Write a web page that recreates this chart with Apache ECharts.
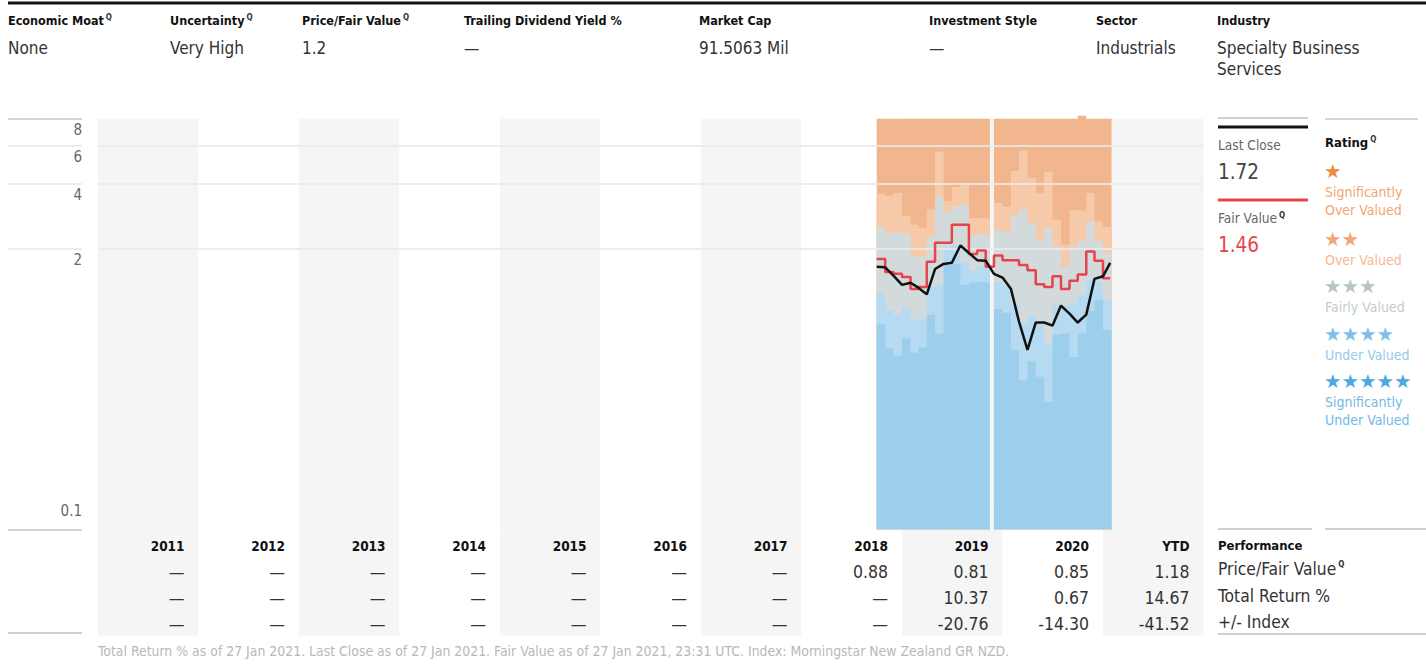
<!DOCTYPE html>
<html><head><meta charset="utf-8">
<script src="https://cdn.jsdelivr.net/npm/echarts@6/dist/echarts.min.js"></script>
<style>html,body{margin:0;padding:0;background:#fff}#c{width:1426px;height:664px}</style>
</head><body><div id="c"></div><script>
const FONT = '"DejaVu Sans Condensed","Roboto",sans-serif';

// ---- header ----
const HEADER_LABELS = ['Economic Moat','Uncertainty','Price/Fair Value','Trailing Dividend Yield %','Market Cap','Investment Style','Sector','Industry'];
const HEADER_Q = [true,true,true,false,false,false,false,false];
const HEADER_VALUES = ['None','Very High','1.2','—','91.5063 Mil','—','Industrials','Specialty Business\nServices'];

// ---- monthly valuation bands (upper edge of each rating band) ----
const MONTHS = ['2018-10','2018-11','2018-12','2019-01','2019-02','2019-03','2019-04','2019-05','2019-06','2019-07','2019-08','2019-09','2019-10','2019-11','2019-12','2020-01','2020-02','2020-03','2020-04','2020-05','2020-06','2020-07','2020-08','2020-09','2020-10','2020-11','2020-12','2021-01'];
const SIG_OVER_TOP  = [8,8,8,8,8,8,8,8,8,8,8,8,8,null,8,8,8,8,8,8,8,8,8,8,8.25,8,8,8];
const OVER_TOP      = [3.58,3.52,3.62,2.84,2.58,2.49,3.04,5.63,3.33,3.86,3.94,2.77,2.77,null,3.26,3.13,4.58,5.70,4.25,3.62,4.53,2.72,2.09,3.01,3.01,3.62,2.67,2.53];
const FAIR_TOP      = [2.53,2.38,2.38,2.36,1.84,1.84,2.28,3.47,2.96,3.14,3.20,2.30,2.33,null,2.44,2.38,2.86,3.05,2.62,2.22,2.48,2.04,1.65,2.04,2.17,2.66,2.17,1.92];
const UNDER_TOP     = [1.25,1.04,0.99,1.06,0.93,0.95,1.33,1.36,2.04,2.08,1.72,1.59,1.66,null,1.40,1.34,1.10,0.91,0.98,0.91,0.72,1.09,1.09,1.12,1.22,1.43,1.40,1.16];
const SIG_UNDER_TOP = [0.89,0.69,0.64,0.77,0.66,0.70,0.99,0.81,1.70,1.70,1.36,1.40,1.40,null,1.05,1.01,0.68,0.49,0.60,0.51,0.39,0.80,0.81,0.63,0.81,1.03,1.16,0.84];

// ---- price lines ----
const CLOSE_DATES = ['2018-10-01','2018-11-01','2018-12-01','2019-01-01','2019-02-01','2019-03-01','2019-04-01','2019-05-01','2019-06-01','2019-07-01','2019-08-01','2019-09-01','2019-10-01','2019-11-01','2019-12-01','2020-01-01','2020-02-01','2020-03-01','2020-04-01','2020-05-01','2020-06-01','2020-07-01','2020-08-01','2020-09-01','2020-10-01','2020-11-01','2020-12-01','2021-01-01','2021-01-27'];
const LAST_CLOSE = [1.65,1.64,1.50,1.36,1.39,1.32,1.23,1.61,1.70,1.72,2.07,1.91,1.77,1.76,1.53,1.47,1.30,0.92,0.68,0.91,0.91,0.88,1.09,1.00,0.91,0.99,1.45,1.49,1.72];
const FAIR_VALUE = [1.79,1.56,1.53,1.48,1.30,1.33,1.74,2.13,2.13,2.58,2.58,1.89,1.96,1.65,1.86,1.77,1.77,1.68,1.59,1.37,1.33,1.49,1.30,1.42,1.52,1.94,1.76,1.46];
const LAST_DATE = '2021-01-27';

// ---- axis ticks ----
const Y_GRID = [2,4,6];
const Y_LABELS_TOP = [2,4,6,8];
const Y_EDGES = [0.1,8];
const Y_MIN = 0.1, Y_MAX = 8;

// ---- performance table ----
const YEARS = ['2011','2012','2013','2014','2015','2016','2017','2018','2019','2020','YTD'];
const PRICE_FAIR   = ['—','—','—','—','—','—','—','0.88','0.81','0.85','1.18'];
const TOTAL_RETURN = ['—','—','—','—','—','—','—','—','10.37','0.67','14.67'];
const VS_INDEX     = ['—','—','—','—','—','—','—','—','-20.76','-14.30','-41.52'];
const PERF_LABELS = ['Performance','Price/Fair Value','Total Return %','+/- Index'];

const RATINGS = [
  {stars:1, label:'Significantly\nOver Valued', star:'#f0883e', text:'#f4a672'},
  {stars:2, label:'Over Valued', star:'#f4a676', text:'#f6b893'},
  {stars:3, label:'Fairly Valued', star:'#b9c4c6', text:'#c3cccd'},
  {stars:4, label:'Under Valued', star:'#7fc0e9', text:'#93caed'},
  {stars:5, label:'Significantly\nUnder Valued', star:'#4ea8e0', text:'#74b8e6'}
];
const FOOTNOTE = 'Total Return % as of 27 Jan 2021. Last Close as of 27 Jan 2021. Fair Value as of 27 Jan 2021, 23:31 UTC. Index: Morningstar New Zealand GR NZD.';

// ---- helpers ----
function fy(s){
  const p = s.split('-').map(Number);
  const y = p[0], m = p[1], d = p[2] || 1;
  const a = Date.UTC(y,0,1), b = Date.UTC(y+1,0,1);
  return y + (Date.UTC(y,m-1,d) - a)/(b - a);
}
function monthEnd(s){
  const p = s.split('-').map(Number);
  let y = p[0], m = p[1] + 1; if (m > 12){ m = 1; y++; }
  return fy(y + '-' + String(m).padStart(2,'0'));
}
function bandData(vals){
  const out = [];
  for (let i = 0; i < MONTHS.length; i++){
    const v = vals[i];
    if (v == null){ out.push([fy(MONTHS[i]) + 1/24, '-']); continue; }
    out.push([fy(MONTHS[i]), v]);
    if (i === MONTHS.length - 1 || vals[i+1] == null) out.push([monthEnd(MONTHS[i]), v]);
  }
  return out;
}
function bandSeries(name, vals, color, extra){
  return Object.assign({
    name, type:'line', step:'end', data: bandData(vals), symbol:'none',
    lineStyle:{opacity:0, width:0}, areaStyle:{color, opacity:1, origin:'start'},
    silent:true, z:2, xAxisIndex:0, yAxisIndex:0
  }, extra || {});
}

const fairData = MONTHS.map((m,i)=>[fy(m), FAIR_VALUE[i]]);
fairData.push([fy(LAST_DATE), FAIR_VALUE[FAIR_VALUE.length-1]]);
const closeData = CLOSE_DATES.map((d,i)=>[fy(d), LAST_CLOSE[i]]);

const Q = {q:{fontSize:8, fontWeight:'bold', fontFamily:FONT, fill:'#333', verticalAlign:'top', padding:[0,0,5,2]}};

const graphics = [];
function txt(x, y, text, o){
  o = o || {};
  graphics.push({type:'text', x, y, silent:true, style:Object.assign({
    text, fontFamily:FONT, fontSize:14, fill:'#333', align:'left', verticalAlign:'middle'
  }, o)});
}
function line(x1,y1,x2,y2,stroke,w){
  graphics.push({type:'line', silent:true, shape:{x1,y1,x2,y2}, style:{stroke, lineWidth:w}});
}

// header
const HX = [8,170,302,464,699,929,1096,1217];
line(8,3,1426,3,'#111',3);
HEADER_LABELS.forEach((t,i)=>{
  txt(HX[i], 20, HEADER_Q[i] ? t + '{q|Q}' : t, {fontWeight:'bold', fontSize:12.5, fill:'#111', rich:Q});
  txt(HX[i], 37, HEADER_VALUES[i], {fontSize:17, fill:'#333', verticalAlign:'top', lineHeight:21});
});

// right panel: last close / fair value
line(1218,118,1308,118,'#d0d0d0',2);
line(1218,127,1308,127,'#111',3);
txt(1218,145,'Last Close',{fontSize:13.6, fill:'#666'});
txt(1218,172,LAST_CLOSE[LAST_CLOSE.length-1].toFixed(2),{fontSize:20.5, fill:'#444'});
line(1218,200,1308,200,'#e8434b',3);
txt(1218,218,'Fair Value{q|Q}',{fontSize:13.6, fill:'#666', rich:Q});
txt(1218,245,FAIR_VALUE[FAIR_VALUE.length-1].toFixed(2),{fontSize:20.5, fill:'#e8434b'});

// rating legend
line(1325,119,1418,119,'#aaa',1);
txt(1325,142,'Rating{q|Q}',{fontWeight:'bold', fontSize:13, fill:'#111', rich:Q});
const RY = [171.5, 239, 286.5, 334, 381.5];
RATINGS.forEach((r,i)=>{
  txt(1324, RY[i], '★'.repeat(r.stars), {fontFamily:'"DejaVu Sans",sans-serif', fontSize:19.5, fill:r.star});
  txt(1325, RY[i]+11.5, r.label, {fontSize:14, fill:r.text, verticalAlign:'top', lineHeight:18});
});

// performance labels
line(1218,529,1312,529,'#d0d0d0',2);
line(1325,529,1426,529,'#d0d0d0',2);
line(1218,634,1426,634,'#d0d0d0',2);
line(8,633,82,633,'#d0d0d0',2);
const PY = [545,569,596,622];
PERF_LABELS.forEach((t,i)=>{
  if (i === 0) txt(1218, PY[i], t, {fontWeight:'bold', fontSize:13, fill:'#111'});
  else txt(1218, PY[i], i === 1 ? t + '{q|Q}' : t, {fontSize:17.3, fill:'#333', rich:Q});
});
txt(98, 651, FOOTNOTE, {fontSize:13.9, fill:'#b8b8b8'});

const chart = echarts.init(document.getElementById('c'), null, {renderer:'svg', width:1426, height:664});
const GRID_L = 98, GRID_W = 1105.5, GRID_T = 118.7, GRID_H = 410.9;
const axisCommon = {type:'value', min:2011, max:2022, interval:1,
  axisLine:{show:false}, axisTick:{show:false},
  splitLine:{show:false},
  splitArea:{show:true, areaStyle:{color:['#f5f5f5','#ffffff']}}};

chart.setOption({
  animation:false,
  backgroundColor:'#fff',
  textStyle:{fontFamily:FONT},
  grid:[
    {left:GRID_L, top:GRID_T, width:GRID_W, height:GRID_H, outerBoundsMode:'none'},
    {left:GRID_L, top:GRID_T+GRID_H, width:GRID_W, height:106, outerBoundsMode:'none'}
  ],
  xAxis:[
    Object.assign({gridIndex:0, axisLabel:{show:false}}, axisCommon),
    Object.assign({gridIndex:1, position:'top', axisLabel:{
      show:true, inside:true, margin:3, align:'right', padding:[0,14,0,0],
      showMinLabel:true, showMaxLabel:true,
      formatter:function(v){
        const i = Math.round(v) - 2012;
        if (i < 0 || i >= YEARS.length) return '';
        return '{y|'+YEARS[i]+'}\n{v|'+PRICE_FAIR[i]+'}\n{v|'+TOTAL_RETURN[i]+'}\n{v|'+VS_INDEX[i]+'}';
      },
      rich:{
        y:{fontFamily:FONT, fontWeight:'bold', fontSize:13.5, color:'#111', lineHeight:26, align:'right'},
        v:{fontFamily:FONT, fontSize:17.5, color:'#333', lineHeight:26, align:'right'}
      }
    }}, axisCommon)
  ],
  yAxis:[
    {type:'log', gridIndex:0, min:Y_MIN, max:Y_MAX, position:'left', offset:16, z:3,
      axisLine:{show:false},
      axisTick:{show:true, length:74, customValues:Y_GRID, lineStyle:{color:'#ececec', width:2}},
      splitLine:{show:true, lineStyle:{color:'rgba(234,234,234,0.85)', width:2}},
      axisLabel:{show:true, customValues:Y_LABELS_TOP, margin:0, align:'right', verticalAlign:'top',
        padding:[4,0,0,0], fontSize:15, color:'#666', fontFamily:FONT}
    },
    {type:'log', gridIndex:0, min:Y_MIN, max:Y_MAX, position:'left', offset:16, z:3,
      axisLine:{show:false},
      axisTick:{show:true, length:74, customValues:Y_EDGES, lineStyle:{color:'#d4d4d4', width:2}},
      splitLine:{show:false},
      axisLabel:{show:true, customValues:[Y_MIN], margin:0, align:'right', verticalAlign:'bottom',
        padding:[0,0,11,0], fontSize:15, color:'#666', fontFamily:FONT}
    },
    {type:'value', gridIndex:1, show:false, min:0, max:1}
  ],
  series:[
    bandSeries('Significantly Over Valued', SIG_OVER_TOP, '#f2b68f', {clip:false}),
    bandSeries('Over Valued', OVER_TOP, '#f6caa9'),
    bandSeries('Fairly Valued', FAIR_TOP, '#d2dadb'),
    bandSeries('Under Valued', UNDER_TOP, '#b6daf1'),
    bandSeries('Significantly Under Valued', SIG_UNDER_TOP, '#9dcfec'),
    {name:'Fair Value', type:'line', step:'end', data:fairData, symbol:'none', z:5,
      lineStyle:{color:'#e8434b', width:2.5}, xAxisIndex:0, yAxisIndex:0, silent:true},
    {name:'Last Close', type:'line', data:closeData, symbol:'none', z:6,
      lineStyle:{color:'#111', width:2.5}, xAxisIndex:0, yAxisIndex:0, silent:true}
  ],
  graphic:graphics
});
</script></body></html>
